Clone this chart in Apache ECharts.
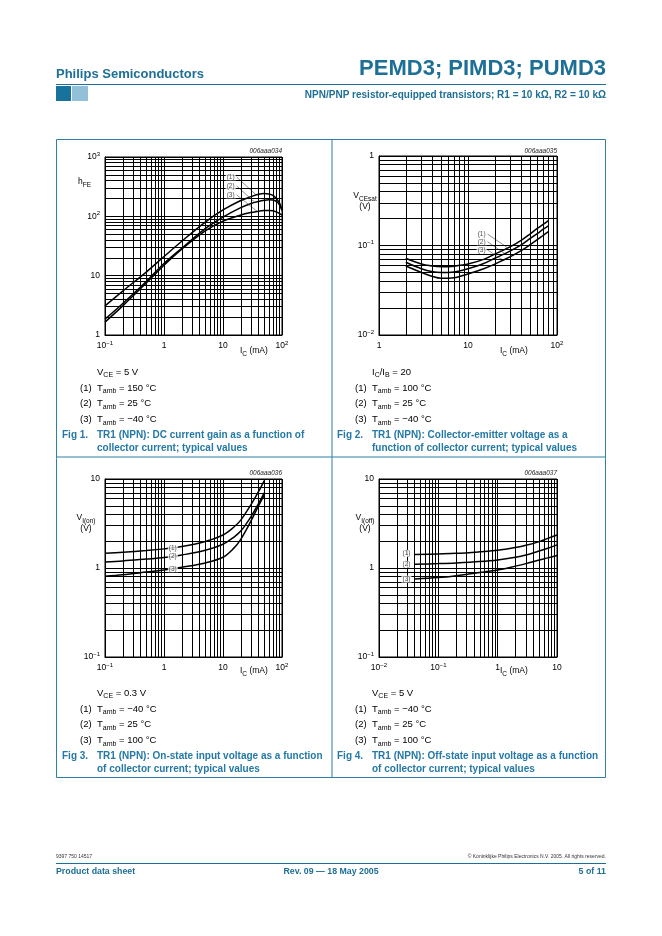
<!DOCTYPE html>
<html><head><meta charset="utf-8">
<script src="https://cdn.jsdelivr.net/npm/echarts@6/dist/echarts.min.js"></script>
<style>html,body{margin:0;padding:0;background:#fff}#c{width:662px;height:936px}</style>
</head><body><div id="c"></div><script>
// ---------- data ----------
// Fig 1: hFE vs IC (mA)
const FIG1_X = [0.1,0.2,0.5,1,2,5,10,20,30,40,50,60,70,80,90,100];
const FIG1_HFE_150 = [3.1,5.5,11.5,21,38,80,128,185,215,235,242,238,225,200,170,132];
const FIG1_HFE_25  = [1.85,3.4,8,16,29,62,97,140,165,178,186,190,188,178,158,125];
const FIG1_HFE_M40 = [1.65,3.1,7.5,15,28,57,83,105,116,122,125,126,124,119,112,105];
const FIG1_LABEL_AT = [[17,462],[17,326],[17,230]];
const FIG1_POINT_AT = [[36,232],[34,175],[38,121]];
// Fig 2: VCEsat (V) vs IC (mA)
const FIG2_X = [2,3,4,5,6,7,8,10,15,20,30,40,50,60,70,80];
const FIG2_V_100 = [0.072,0.062,0.059,0.058,0.058,0.0585,0.06,0.062,0.07,0.08,0.097,0.115,0.135,0.155,0.172,0.19];
const FIG2_V_25  = [0.065,0.055,0.051,0.05,0.05,0.0505,0.052,0.055,0.063,0.072,0.087,0.102,0.12,0.136,0.152,0.166];
const FIG2_V_M40 = [0.059,0.05,0.045,0.043,0.043,0.0435,0.045,0.048,0.055,0.062,0.075,0.088,0.102,0.116,0.13,0.143];
const FIG2_LABEL_AT = [[16.6,0.134],[16.6,0.11],[16.6,0.089]];
const FIG2_POINT_AT = [[28,0.094],[26,0.081],[24.5,0.069]];
// Fig 3: VI(on) (V) vs IC (mA)
const FIG3_X = [0.1,0.2,0.5,1,2,5,10,15,20,30,40,50];
const FIG3_V_M40 = [1.46,1.5,1.57,1.64,1.74,1.98,2.35,2.85,3.45,5.2,7.2,9.6];
const FIG3_V_25  = [1.17,1.2,1.26,1.31,1.4,1.58,1.85,2.2,2.6,3.8,5.3,7.0];
const FIG3_V_100 = [0.81,0.84,0.9,0.95,1.02,1.14,1.32,1.65,2.1,3.4,5.0,6.6];
const FIG3_LABEL_AT = [[1.41,1.68],[1.41,1.35],[1.41,0.98]];
// Fig 4: VI(off) (V) vs IC (mA)
const FIG4_X = [0.04,0.1,0.2,0.5,1,2,3,5,7,10];
const FIG4_V_M40 = [1.42,1.44,1.46,1.52,1.58,1.7,1.8,1.98,2.15,2.35];
const FIG4_V_25  = [1.1,1.12,1.14,1.18,1.23,1.32,1.4,1.55,1.67,1.82];
const FIG4_V_100 = [0.75,0.78,0.82,0.89,0.95,1.05,1.12,1.23,1.3,1.38];
const FIG4_LABEL_AT = [[0.029,1.46],[0.029,1.1],[0.029,0.75]];
const CURVE_LABELS = ['(1)','(2)','(3)'];
// axis ranges (decade exponents)
const FIG1_XR = [-1,2], FIG1_YR = [0,3];
const FIG2_XR = [0,2],  FIG2_YR = [-2,0];
const FIG3_XR = [-1,2], FIG3_YR = [-1,1];
const FIG4_XR = [-2,1], FIG4_YR = [-1,1];

// ---------- helpers ----------
const FONT = '"Liberation Sans", Arial, Helvetica, sans-serif';
const TEAL = '#1d6f96';
const CAP = '#2479a6';
const BOX = '#2f7fa5';
function decadeTicks(r){
  const out=[];
  for(let e=r[0];e<r[1];e++) for(let m=1;m<10;m++) out.push(Number((m*Math.pow(10,e)).toPrecision(6)));
  out.push(Math.pow(10,r[1]));
  return out;
}
function pairs(xs,ys){ return xs.map((x,i)=>[x,ys[i]]); }
function logLabel(v){
  const e=Math.round(Math.log10(v));
  if(e===0) return '{b|1}';
  if(e===1) return '{b|10}';
  return '{b|10}{s|'+(e<0?'\u2212'+(-e):e)+'}';
}
function axisLbl(){
  return {color:'#000',fontFamily:FONT,fontSize:8.5,margin:5,formatter:logLabel,showMinLabel:true,showMaxLabel:true,hideOverlap:false,
    rich:{b:{fontSize:8.5,lineHeight:12,fontFamily:FONT,color:'#000'},s:{fontSize:6,lineHeight:6,verticalAlign:'top',fontFamily:FONT,color:'#000'}}};
}
function logAxis(gi,r){
  return {type:'log',logBase:10,gridIndex:gi,min:Math.pow(10,r[0]),max:Math.pow(10,r[1]),
    axisLine:{show:true,lineStyle:{color:'#000',width:1}},axisTick:{show:false},splitLine:{show:false},
    minorTick:{show:false},minorSplitLine:{show:false},axisLabel:axisLbl(),axisPointer:{show:false}};
}
function gridLines(gi,xr,yr){
  return {type:'line',xAxisIndex:gi,yAxisIndex:gi,data:[],silent:true,z:1,animation:false,
    markLine:{silent:true,symbol:['none','none'],animation:false,label:{show:false},
      lineStyle:{color:'#000',width:1,type:'solid'},emphasis:{disabled:true},
      data:[...decadeTicks(xr).map(v=>({xAxis:v})),...decadeTicks(yr).map(v=>({yAxis:v}))]}};
}
function curve(gi,xs,ys){
  return {type:'line',xAxisIndex:gi,yAxisIndex:gi,data:pairs(xs,ys),smooth:0.35,showSymbol:false,symbol:'none',
    lineStyle:{color:'#000',width:1.5},z:3,silent:true,animation:false};
}
function leader(gi,a,b){
  return {type:'line',xAxisIndex:gi,yAxisIndex:gi,data:[a,b],showSymbol:false,symbol:'none',
    lineStyle:{color:'#444',width:0.6},z:4,silent:true,animation:false};
}
function labels(gi,pts,pos){
  return {type:'scatter',xAxisIndex:gi,yAxisIndex:gi,symbolSize:0,z:6,silent:true,animation:false,
    data:pts.map((p,i)=>({value:p,name:CURVE_LABELS[i]})),
    label:{show:true,position:pos,distance:1,formatter:'{b}',fontFamily:FONT,fontSize:6.5,color:'#222',
      backgroundColor:'#fff',padding:[0,1,0,1]}};
}
const capRich = {
  n:{fontSize:9.5,lineHeight:14,fontFamily:FONT,fill:'#000',color:'#000'},
  s:{fontSize:7,lineHeight:8,verticalAlign:'bottom',fontFamily:FONT,fill:'#000',color:'#000'}
};
const axRich = {
  n:{fontSize:8.5,lineHeight:13,fontFamily:FONT,fill:'#000',color:'#000'},
  s:{fontSize:6.5,lineHeight:7,verticalAlign:'bottom',fontFamily:FONT,fill:'#000',color:'#000'}
};
function T(x,y,text,o){
  o=o||{};
  const al=o.align||'left';
  const st={text:text,fill:o.color||'#000',fontSize:o.size||9.5,fontFamily:FONT,
    fontWeight:o.weight||'normal',fontStyle:o.italic?'italic':'normal',
    align:al,textAlign:al,verticalAlign:'middle',textVerticalAlign:'middle'};
  if(o.rich) st.rich=o.rich;
  return {type:'text',x:x,y:y,silent:true,z:20,style:st};
}
function L(x1,y1,x2,y2,c,w){ return {type:'line',silent:true,z:15,shape:{x1,y1,x2,y2},style:{stroke:c,lineWidth:w||1}}; }
function R(x,y,w,h,fill){ return {type:'rect',silent:true,z:15,shape:{x,y,width:w,height:h},style:{fill:fill}}; }

// ---------- graphic (page texts) ----------
const g = [];
// header
g.push(T(56,74,'Philips Semiconductors',{weight:'bold',size:13,color:TEAL}));
g.push(T(606,69,'PEMD3; PIMD3; PUMD3',{weight:'bold',size:22,color:TEAL,align:'right'}));
g.push(L(56,84.5,606,84.5,TEAL,1));
g.push(R(56,86,15,15,'#19729b'));
g.push(R(72,86,16,15,'#93c0d9'));
g.push(T(606,95,'NPN/PNP resistor-equipped transistors; R1 = 10 k\u03A9, R2 = 10 k\u03A9',{weight:'bold',size:10,color:TEAL,align:'right'}));
// box
g.push({type:'rect',silent:true,z:15,shape:{x:56.5,y:139.5,width:549,height:638},style:{fill:'none',stroke:BOX,lineWidth:1}});
g.push(L(332,139.5,332,777.5,BOX,1));
g.push(L(56.5,457,605.5,457,BOX,1));
// chart labels
g.push(T(282,151,'006aaa034',{size:6.5,italic:true,color:'#222',align:'right'}));
g.push(T(557,151,'006aaa035',{size:6.5,italic:true,color:'#222',align:'right'}));
g.push(T(282,473,'006aaa036',{size:6.5,italic:true,color:'#222',align:'right'}));
g.push(T(557,473,'006aaa037',{size:6.5,italic:true,color:'#222',align:'right'}));
g.push(T(78,182,'{n|h}{s|FE}',{rich:axRich}));
g.push(T(365,196,'{n|V}{s|CEsat}',{rich:axRich,align:'center'}));
g.push(T(365,207,'{n|(V)}',{rich:axRich,align:'center'}));
g.push(T(86,518,'{n|V}{s|I(on)}',{rich:axRich,align:'center'}));
g.push(T(86,529,'{n|(V)}',{rich:axRich,align:'center'}));
g.push(T(365,518,'{n|V}{s|I(off)}',{rich:axRich,align:'center'}));
g.push(T(365,529,'{n|(V)}',{rich:axRich,align:'center'}));
[[240,351],[500,351],[240,671],[500,671]].forEach(p=>g.push(T(p[0],p[1],'{n|I}{s|C}{n| (mA)}',{rich:axRich})));
// captions
function caption(xF,xN,xT,y0,cond,temps,fig,l1,l2){
  g.push(T(xT,y0,cond,{rich:capRich}));
  temps.forEach((t,i)=>{
    g.push(T(xN,y0+16+i*15.7,'{n|('+(i+1)+')}',{rich:capRich}));
    g.push(T(xT,y0+16+i*15.7,'{n|T}{s|amb}{n| = '+t+' \u00B0C}',{rich:capRich}));
  });
  g.push(T(xF,y0+63,fig,{weight:'bold',size:10,color:CAP}));
  g.push(T(xT,y0+63,l1,{weight:'bold',size:10,color:CAP}));
  g.push(T(xT,y0+76,l2,{weight:'bold',size:10,color:CAP}));
}
caption(62,80,97,372,'{n|V}{s|CE}{n| = 5 V}',['150','25','\u221240'],'Fig 1.','TR1 (NPN): DC current gain as a function of','collector current; typical values');
caption(337,355,372,372,'{n|I}{s|C}{n|/I}{s|B}{n| = 20}',['100','25','\u221240'],'Fig 2.','TR1 (NPN): Collector-emitter voltage as a','function of collector current; typical values');
caption(62,80,97,693,'{n|V}{s|CE}{n| = 0.3 V}',['\u221240','25','100'],'Fig 3.','TR1 (NPN): On-state input voltage as a function','of collector current; typical values');
caption(337,355,372,693,'{n|V}{s|CE}{n| = 5 V}',['\u221240','25','100'],'Fig 4.','TR1 (NPN): Off-state input voltage as a function','of collector current; typical values');
// footer
g.push(T(56,857,'9397 750 14517',{size:5,color:'#333'}));
g.push(T(606,857,'\u00A9 Koninklijke Philips Electronics N.V. 2005. All rights reserved.',{size:5,color:'#333',align:'right'}));
g.push(L(56,863.5,606,863.5,TEAL,1));
g.push(T(56,872,'Product data sheet',{weight:'bold',size:8.8,color:TEAL}));
g.push(T(331,872,'Rev. 09 \u2014 18 May 2005',{weight:'bold',size:8.8,color:TEAL,align:'center'}));
g.push(T(606,872,'5 of 11',{weight:'bold',size:8.8,color:TEAL,align:'right'}));

// ---------- option ----------
const gridBase = {show:true,borderColor:'#000',borderWidth:1,backgroundColor:'transparent',containLabel:false};
const option = {
  animation:false,
  backgroundColor:'#fff',
  textStyle:{fontFamily:FONT},
  grid:[
    Object.assign({left:105,top:157,width:177,height:178},gridBase),
    Object.assign({left:379,top:156,width:178,height:179},gridBase),
    Object.assign({left:105,top:479,width:177,height:178},gridBase),
    Object.assign({left:379,top:479,width:178,height:178},gridBase)
  ],
  xAxis:[logAxis(0,FIG1_XR),logAxis(1,FIG2_XR),logAxis(2,FIG3_XR),logAxis(3,FIG4_XR)],
  yAxis:[logAxis(0,FIG1_YR),logAxis(1,FIG2_YR),logAxis(2,FIG3_YR),logAxis(3,FIG4_YR)],
  series:[
    gridLines(0,FIG1_XR,FIG1_YR),gridLines(1,FIG2_XR,FIG2_YR),gridLines(2,FIG3_XR,FIG3_YR),gridLines(3,FIG4_XR,FIG4_YR),
    curve(0,FIG1_X,FIG1_HFE_150),curve(0,FIG1_X,FIG1_HFE_25),curve(0,FIG1_X,FIG1_HFE_M40),
    curve(1,FIG2_X,FIG2_V_100),curve(1,FIG2_X,FIG2_V_25),curve(1,FIG2_X,FIG2_V_M40),
    curve(2,FIG3_X,FIG3_V_M40),curve(2,FIG3_X,FIG3_V_25),curve(2,FIG3_X,FIG3_V_100),
    curve(3,FIG4_X,FIG4_V_M40),curve(3,FIG4_X,FIG4_V_25),curve(3,FIG4_X,FIG4_V_100),
    ...FIG1_LABEL_AT.map((p,i)=>leader(0,p,FIG1_POINT_AT[i])),
    ...FIG2_LABEL_AT.map((p,i)=>leader(1,p,FIG2_POINT_AT[i])),
    labels(0,FIG1_LABEL_AT,'left'),labels(1,FIG2_LABEL_AT,'left'),
    labels(2,FIG3_LABEL_AT,'inside'),labels(3,FIG4_LABEL_AT,'inside')
  ],
  graphic:g
};
const chart = echarts.init(document.getElementById('c'));
chart.setOption(option);
</script></body></html>
